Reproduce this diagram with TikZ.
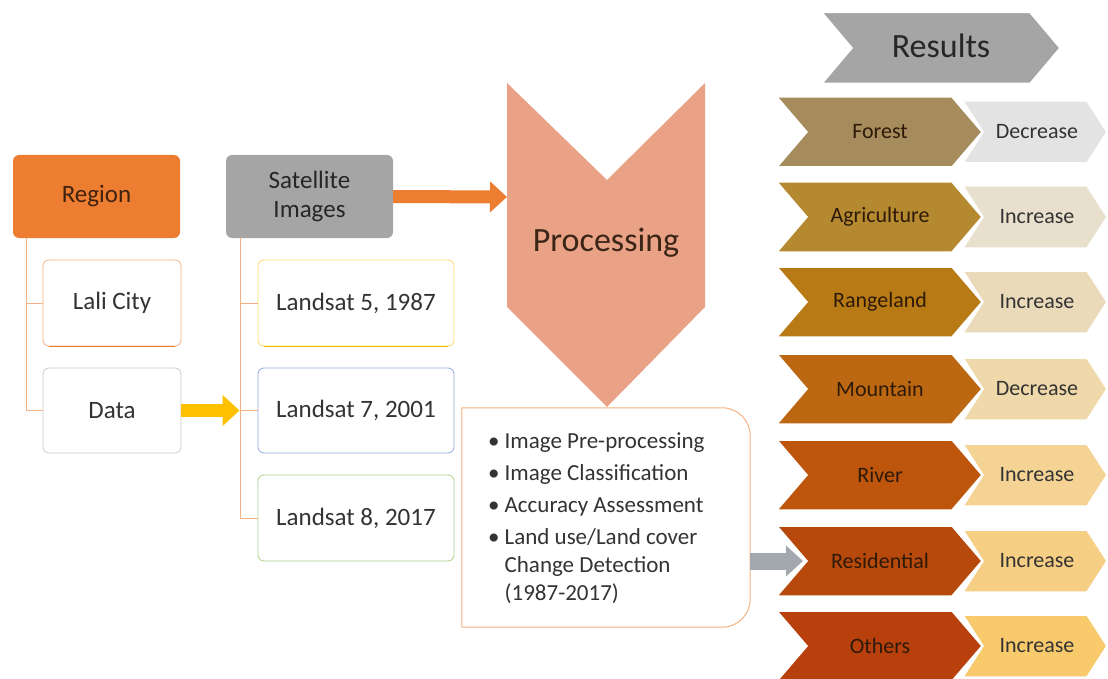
\documentclass[tikz,border=0pt]{standalone}
\usepackage{fontspec}
\setmainfont{Carlito}
\usetikzlibrary{positioning,calc,arrows.meta}

\definecolor{regorange}{HTML}{ED7D31}
\definecolor{satgray}{HTML}{A5A5A5}
\definecolor{treeline}{HTML}{F4B183}
\definecolor{lalidraw}{HTML}{F4B183}
\definecolor{ls5draw}{HTML}{FFD966}
\definecolor{ls5bottom}{HTML}{FFC000}
\definecolor{datadraw}{HTML}{C9C9C9}
\definecolor{ls7draw}{HTML}{8FAADC}
\definecolor{ls8draw}{HTML}{A9D18E}
\definecolor{procfill}{HTML}{E9A286}
\definecolor{proctext}{HTML}{3B2516}
\definecolor{textgray}{HTML}{333333}
\definecolor{regtext}{HTML}{40220F}
\definecolor{arrowgray}{HTML}{A3A8AE}
\definecolor{cattextc}{HTML}{2E1A08}
% chevron colours
\definecolor{forestc}{HTML}{A68B5C}
\definecolor{agric}{HTML}{B5892F}
\definecolor{rangec}{HTML}{B87A15}
\definecolor{mountc}{HTML}{BC6711}
\definecolor{riverc}{HTML}{BD560C}
\definecolor{resc}{HTML}{B8490D}
\definecolor{othc}{HTML}{B8400C}
\definecolor{forestr}{HTML}{E3E3E3}
\definecolor{agrir}{HTML}{E8DFCC}
\definecolor{ranger}{HTML}{EBDABA}
\definecolor{mountr}{HTML}{EFD8A9}
\definecolor{riverr}{HTML}{F4D394}
\definecolor{resr}{HTML}{F6CE84}
\definecolor{othr}{HTML}{F8CA6C}

\newcommand{\chevshape}[6]{%
  \filldraw[fill=#6, draw=white, line width=1.5pt] ({#1},{#2-#4/2}) -- ({#1+#3-#5},{#2-#4/2}) -- ({#1+#3},{#2}) -- ({#1+#3-#5},{#2+#4/2}) -- ({#1},{#2+#4/2}) -- ({#1+#5},{#2}) -- cycle;}

\tikzset{
  headbox/.style={rounded corners=6pt, minimum width=167pt, minimum height=83pt, align=center, font=\fontsize{25}{29}\selectfont},
  itembox/.style={draw, rounded corners=6pt, fill=white, line width=0.8pt, minimum height=86pt, font=\fontsize{25}{29}\selectfont, text=textgray},
  tree/.style={draw=treeline, line width=1pt},
  fatarrow/.style={line width=13pt, -{Triangle[length=17pt,width=30pt]}},
  cattext/.style={font=\fontsize{22}{26}\selectfont, text=cattextc},
  trendtext/.style={font=\fontsize{22}{26}\selectfont, text=textgray},
}

\begin{document}
\begin{tikzpicture}[x=1pt,y=-1pt]
\useasboundingbox (0,0) rectangle (1108,679);

% region and its items
\node[headbox, fill=regorange, text=regtext] (region) at (96.5,196.5) {Region};
\node[itembox, draw=lalidraw, minimum width=138pt] (lali) at (112,303) {Lali City};
\node[itembox, draw=datadraw, minimum width=138pt, minimum height=85pt] (data) at (112,410.5) {Data};
\draw[regorange, line width=1.5pt] ([xshift=6pt]lali.south west) -- ([xshift=-6pt]lali.south east);
\draw[tree] ([xshift=14pt]region.south west) |- (lali.west);
\draw[tree] ([xshift=14pt]region.south west) |- (data.west);

% satellite images
\node[headbox, fill=satgray, text=black!85] (sat) at (309.5,196.5) {Satellite\\Images};
\node[itembox, draw=ls5draw, minimum width=196pt] (ls5) at (356,303) {Landsat 5, 1987};
\node[itembox, draw=ls7draw, minimum width=196pt, minimum height=85pt] (ls7) at (356,410.5) {Landsat 7, 2001};
\node[itembox, draw=ls8draw, minimum width=196pt] (ls8) at (356,518) {Landsat 8, 2017};
\draw[ls5bottom, line width=1.5pt] ([xshift=6pt]ls5.south west) -- ([xshift=-6pt]ls5.south east);
\draw[tree] ([xshift=15pt]sat.south west) |- (ls5.west);
\draw[tree] ([xshift=15pt]sat.south west) |- (ls7.west);
\draw[tree] ([xshift=15pt]sat.south west) |- (ls8.west);
\draw[fatarrow, ls5bottom] (data.east) -- ([xshift=-18pt]ls7.west);

% processing
\fill[procfill] (507,83) -- (607,180) -- (705,83) -- (705,307) -- (607,407) -- (507,307) -- cycle;
\node[font=\fontsize{34}{40}\selectfont, text=proctext] (proc) at (606,243) {Processing};
\coordinate (procin) at (507,197);
\draw[fatarrow, regorange] (sat.east) -- (procin);

% steps
\node[minimum width=288pt, minimum height=219pt] (steps) at (606,517.5) {};
\draw[lalidraw, line width=1pt] (steps.north west) -- ([xshift=-28pt]steps.north east)
  arc[start angle=90, end angle=0, radius=28pt] -- ([yshift=28pt]steps.south east)
  arc[start angle=0, end angle=-90, radius=28pt] -- (steps.south west) -- cycle;
\node[anchor=base west, font=\fontsize{23}{28}\selectfont, text=textgray, inner sep=0pt] (stepstext) at (488,448)
  {\begin{tabular}[t]{@{}l@{\hspace{5pt}}l@{}}
   \textbullet & Image Pre-processing\\[4pt]
   \textbullet & Image Classification\\[4pt]
   \textbullet & Accuracy Assessment\\[4pt]
   \textbullet & Land use/Land cover\\
               & Change Detection\\
               & (1987-2017)
   \end{tabular}};

% results
\chevshape{822}{48}{238}{71}{30}{satgray}
\node[font=\fontsize{34}{40}\selectfont, text=black!85] (results) at (941,46) {Results};
\foreach \lab/\yc/\cfill/\trend/\rfill in {Forest/132/forestc/Decrease/forestr, Agriculture/217/agric/Increase/agrir, Rangeland/302/rangec/Increase/ranger, Mountain/389/mountc/Decrease/mountr, River/475/riverc/Increase/riverr, Residential/561/resc/Increase/resr, Others/646/othc/Increase/othr}{
  \chevshape{963}{\yc}{144}{62}{20}{\rfill}
  \chevshape{777}{\yc}{205}{70}{30}{\cfill}
  \node[cattext] (cat\lab) at (880,\yc) {\lab};
  \node[trendtext] (trend\lab) at (1037,\yc) {\trend};
}
\coordinate (resin) at (803,561);
\draw[fatarrow, line width=17pt, arrowgray] (steps.east |- resin) -- (resin);
\end{tikzpicture}
\end{document}
